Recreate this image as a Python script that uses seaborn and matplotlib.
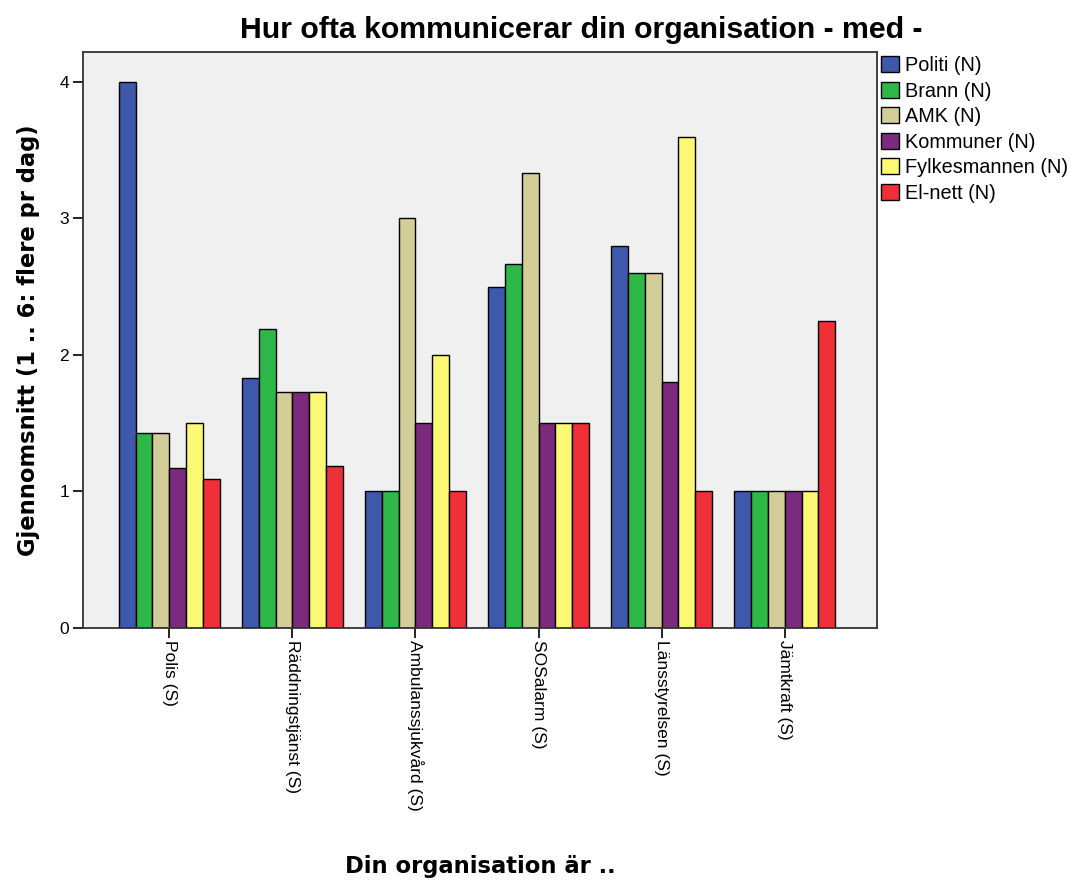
import pandas as pd
import numpy as np
import matplotlib.pyplot as plt
import seaborn as sns

categories = ['Polis (S)', 'Räddningstjänst (S)', 'Ambulanssjukvård (S)',
              'SOSalarm (S)', 'Länsstyrelsen (S)', 'Jämtkraft (S)']
series = ['Politi (N)', 'Brann (N)', 'AMK (N)', 'Kommuner (N)',
          'Fylkesmannen (N)', 'El-nett (N)']

politi = [4.0, 1.83, 1.0, 2.5, 2.8, 1.0]
brann = [1.43, 2.19, 1.0, 2.67, 2.6, 1.0]
amk = [1.43, 1.73, 3.0, 3.33, 2.6, 1.0]
kommuner = [1.17, 1.73, 1.5, 1.5, 1.8, 1.0]
fylkesmannen = [1.5, 1.73, 2.0, 1.5, 3.6, 1.0]
elnett = [1.09, 1.19, 1.0, 1.5, 1.0, 2.25]

colors = ['#3E58AC', '#2EB848', '#D3CE97', '#7B2A7E', '#FBF873', '#EF3038']

rows = []
for name, vals in zip(series, [politi, brann, amk, kommuner, fylkesmannen, elnett]):
    for cat, v in zip(categories, vals):
        rows.append({'Org': cat, 'Mottagare': name, 'Snitt': v})
df = pd.DataFrame(rows)

sns.set_style('white', {'text.color': 'black', 'axes.labelcolor': 'black',
                        'xtick.color': 'black', 'ytick.color': 'black'})
plt.rcParams['font.family'] = ['Liberation Sans', 'DejaVu Sans']

fig = plt.figure(figsize=(10.73, 8.81), dpi=100)
ax = fig.add_axes([0.0774, 0.2872, 0.74, 0.6538])
sns.barplot(data=df, x='Org', y='Snitt', hue='Mottagare', order=categories,
            hue_order=series, palette=colors, width=0.82, edgecolor='black',
            linewidth=1.0, saturation=1, errorbar=None, ax=ax)

ax.set_facecolor('#F0F0F0')
ax.set_ylim(0, 4.22)
ax.set_xlim(-0.70, 5.75)
ax.set_yticks([0, 1, 2, 3, 4])
ax.tick_params(axis='y', labelsize=12.5, length=7.2, width=1.2, direction='out', left=True, pad=3)
ax.tick_params(axis='x', labelsize=12.5, length=7.2, width=1.2, direction='out', bottom=True, pad=1.5)
plt.setp(ax.get_xticklabels(), rotation=270, va='top', ha='center')
for s in ax.spines.values():
    s.set_color('#333333')
    s.set_linewidth(1.3)

# axis titles are drawn in a wider bold face than the rest
ax.set_xlabel('Din organisation är ..', fontsize=16.3, fontweight='bold', family='DejaVu Sans')
ax.set_ylabel('Gjennomsnitt (1 .. 6: flere pr dag)', fontsize=16.3, fontweight='bold',
              family='DejaVu Sans')
ax.xaxis.set_label_coords(0.5, (628 - 867) / 576)
ax.xaxis.label.set_va('center')
ax.yaxis.set_label_coords((28 - 83) / 794, 0.5)
ax.yaxis.label.set_va('center')

fig.text(0.5415, 0.966, 'Hur ofta kommunicerar din organisation - med -',
         ha='center', va='center', fontsize=21.8, fontweight='bold')

ax.legend(loc='upper left', bbox_to_anchor=(1.0, 1.0), frameon=False, fontsize=14.3,
          handlelength=0.92, handleheight=0.87, handletextpad=0.3, labelspacing=0.33,
          borderaxespad=0.0, borderpad=0.2)

plt.savefig('out.png', dpi=100)
